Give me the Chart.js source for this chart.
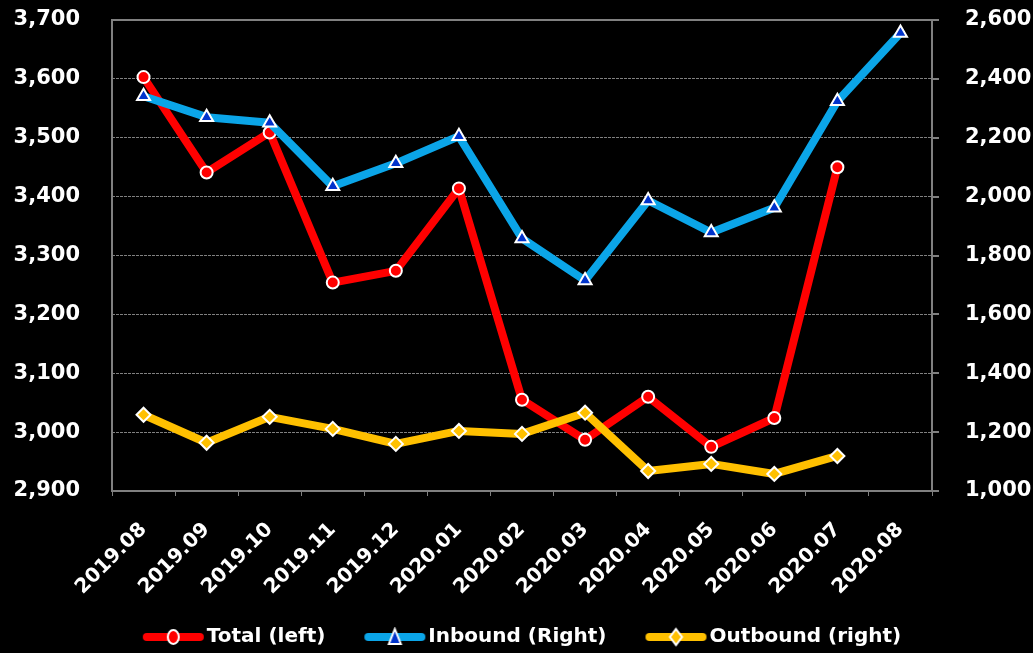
<!DOCTYPE html>
<html>
<head>
<meta charset="utf-8">
<script src="https://cdn.jsdelivr.net/npm/chart.js@4/dist/chart.umd.min.js"></script>
<style>
  html, body { margin: 0; padding: 0; background: #000; }
  #wrap { width: 1033px; height: 653px; }
</style>
</head>
<body>
<div id="wrap"><canvas id="c" width="1033" height="653"></canvas></div>
<script>
const categories = ['2019.08','2019.09','2019.10','2019.11','2019.12','2020.01','2020.02','2020.03','2020.04','2020.05','2020.06','2020.07','2020.08'];
const totalLeft = [3603, 3441, 3509, 3254, 3274, 3414, 3055, 2987, 3060, 2975, 3024, 3450, null];
const inboundRight = [2341, 2270, 2251, 2035, 2113, 2205, 1858, 1715, 1987, 1878, 1962, 2324, 2556];
const outboundRight = [1259, 1164, 1252, 1211, 1160, 1204, 1194, 1266, 1068, 1092, 1058, 1119, null];
const seriesNames = ['Total (left)', 'Inbound (Right)', 'Outbound (right)'];
const leftTicks = { min: 2900, max: 3700, step: 100 };
const rightTicks = { min: 1000, max: 2600, step: 200 };

const FONT = "'DejaVu Sans', sans-serif";
const GRID = '#808080';

function legendSample(lineColor, style, fill) {
  const cv = document.createElement('canvas');
  cv.width = 69; cv.height = 20;
  const g = cv.getContext('2d');
  g.strokeStyle = lineColor; g.lineWidth = 8; g.lineCap = 'round';
  g.beginPath(); g.moveTo(8, 10); g.lineTo(61, 10); g.stroke();
  const cx = 34.5;
  g.fillStyle = fill; g.strokeStyle = '#fff'; g.lineWidth = 2;
  g.beginPath();
  if (style === 'circle') {
    g.ellipse(cx, 10, 5.5, 7, 0, 0, Math.PI * 2);
  } else if (style === 'triangle') {
    g.moveTo(cx, 2); g.lineTo(cx + 6, 17); g.lineTo(cx - 6, 17); g.closePath();
  } else {
    g.moveTo(cx, 2); g.lineTo(cx + 6, 10); g.lineTo(cx, 18); g.lineTo(cx - 6, 10); g.closePath();
  }
  g.fill(); g.stroke();
  return cv;
}
const samples = [
  legendSample('#FF0000', 'circle', '#FF0000'),
  legendSample('#0BA5E8', 'triangle', '#0033CC'),
  legendSample('#FFC000', 'diamond', '#FFC000')
];

const framePlugin = {
  id: 'frame',
  afterLayout(chart) {
    // let tick labels extend past their axis boxes without being clipped
    chart.scales.x.bottom = chart.height;
    chart.scales.y.left = 0;
  },
  beforeDatasetsDraw(chart) {
    const a = chart.chartArea, ctx = chart.ctx;
    ctx.save();
    ctx.strokeStyle = GRID; ctx.lineWidth = 2;
    ctx.strokeRect(a.left, a.top, a.right - a.left, a.bottom - a.top);
    ctx.restore();
  }
};

const fmt = v => Number(v).toLocaleString('en-US');
function noVPad(s) { s.paddingTop = 0; s.paddingBottom = 0; }

new Chart(document.getElementById('c'), {
  type: 'line',
  data: {
    labels: categories,
    datasets: [
      {
        label: seriesNames[0], data: totalLeft, yAxisID: 'y', order: 2,
        borderColor: '#FF0000', backgroundColor: '#FF0000', borderWidth: 8,
        pointStyle: 'circle', pointRadius: 6, pointBackgroundColor: '#FF0000',
        pointBorderColor: '#FFFFFF', pointBorderWidth: 2,
        borderJoinStyle: 'round', borderCapStyle: 'round', tension: 0
      },
      {
        label: seriesNames[1], data: inboundRight, yAxisID: 'y1', order: 1,
        borderColor: '#0BA5E8', backgroundColor: '#0BA5E8', borderWidth: 8,
        pointStyle: 'triangle', pointRadius: 7.5, pointBackgroundColor: '#0033CC',
        pointBorderColor: '#FFFFFF', pointBorderWidth: 2,
        borderJoinStyle: 'round', borderCapStyle: 'round', tension: 0
      },
      {
        label: seriesNames[2], data: outboundRight, yAxisID: 'y1', order: 0,
        borderColor: '#FFC000', backgroundColor: '#FFC000', borderWidth: 8,
        pointStyle: 'rectRot', pointRadius: 7, pointBackgroundColor: '#FFC000',
        pointBorderColor: '#FFFFFF', pointBorderWidth: 2,
        borderJoinStyle: 'round', borderCapStyle: 'round', tension: 0
      }
    ]
  },
  options: {
    responsive: false,
    animation: false,
    layout: { padding: { top: 20, left: 18, right: 0, bottom: -4 } },
    plugins: {
      tooltip: { enabled: false },
      legend: {
        position: 'bottom',
        labels: {
          color: '#FFFFFF',
          font: { family: FONT, size: 20, weight: 'bold' },
          usePointStyle: true,
          pointStyleWidth: 47,
          padding: 46,
          sort: (a, b) => a.datasetIndex - b.datasetIndex,
          generateLabels(chart) {
            const items = Chart.defaults.plugins.legend.labels.generateLabels(chart);
            items.forEach(it => { it.pointStyle = samples[it.datasetIndex]; it.fontColor = '#FFFFFF'; });
            return items;
          }
        }
      }
    },
    scales: {
      x: {
        offset: true,
        afterFit(s) { s.height = 90; s.paddingLeft = 0; s.paddingRight = 0; },
        grid: { display: true, drawOnChartArea: false, drawTicks: true, tickLength: 5, color: GRID, offset: true },
        border: { display: false },
        ticks: {
          color: '#FFFFFF', font: { family: FONT, size: 20, weight: 'bold' },
          maxRotation: 45, minRotation: 45, autoSkip: false, padding: 22
        }
      },
      y: {
        position: 'left',
        min: leftTicks.min, max: leftTicks.max,
        afterFit(s) { s.width = 94; noVPad(s); },
        grid: { color: GRID, lineWidth: 1, drawTicks: false },
        border: { display: false, dash: [3, 1] },
        ticks: {
          stepSize: leftTicks.step, color: '#FFFFFF', padding: 32,
          font: { family: FONT, size: 21, weight: 'bold' },
          callback: v => fmt(v)
        }
      },
      y1: {
        position: 'right',
        min: rightTicks.min, max: rightTicks.max,
        afterFit(s) { s.width = 101; noVPad(s); },
        grid: { drawOnChartArea: false, drawTicks: true, tickLength: 7, color: GRID, lineWidth: 2 },
        border: { display: false },
        ticks: {
          stepSize: rightTicks.step, color: '#FFFFFF', padding: 26,
          font: { family: FONT, size: 21, weight: 'bold' },
          callback: v => fmt(v)
        }
      }
    }
  },
  plugins: [framePlugin]
});
</script>
</body>
</html>
